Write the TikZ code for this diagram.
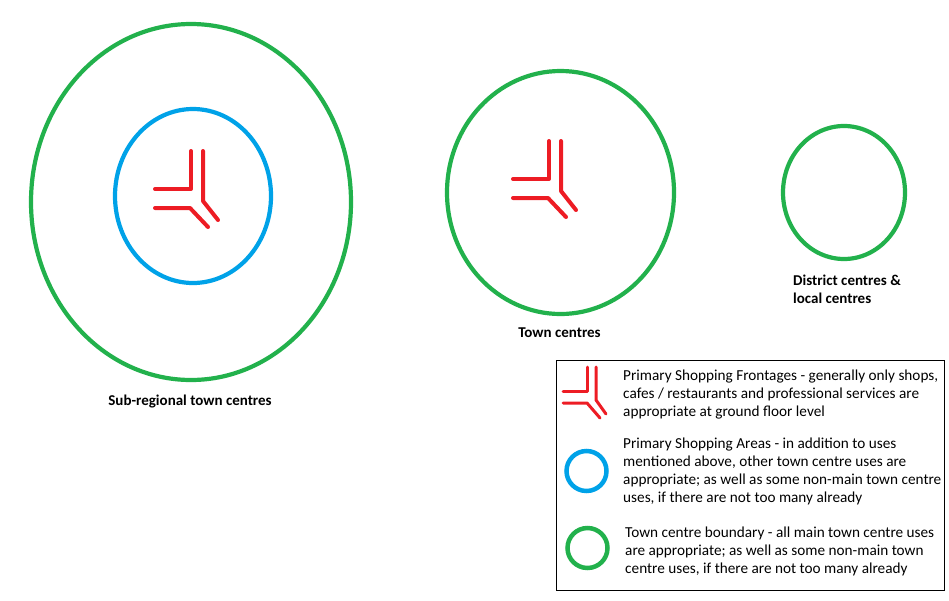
\documentclass[tikz,border=0pt]{standalone}
\usepackage{fontspec}
\setmainfont{Carlito}
\definecolor{paintred}{RGB}{237,28,36}
\definecolor{paintgreen}{RGB}{34,177,76}
\definecolor{paintblue}{RGB}{0,162,232}
\tikzset{
  frontage/.style={paintred,line width=4pt,line cap=round,line join=round},
  boundary/.style={paintgreen,line width=4.2pt},
  shoparea/.style={paintblue,line width=4.2pt},
  centrelabel/.style={font=\fontsize{15}{18}\selectfont\bfseries,inner sep=0pt},
  legendtext/.style={font=\fontsize{15.25}{18}\selectfont,align=left,inner sep=0pt,anchor=north west},
}

\begin{document}
\begin{tikzpicture}[x=1pt,y=-1pt]
 \useasboundingbox (0,0) rectangle (949,600);

    % sub-regional town centre
    \draw[boundary] (191,202) ellipse [x radius=160pt, y radius=178pt];
    \draw[shoparea] (193,196) ellipse [x radius=78pt, y radius=87pt];

    % town centre and district centre
    \draw[boundary] (560.5,192.5) ellipse [x radius=113.5pt, y radius=121.5pt];
    \draw[boundary] (844,192.5) ellipse [x radius=61pt, y radius=66.5pt];

    % frontages
    \foreach \sx/\sy in {0/0,358/-10}{
      \begin{scope}[shift={(\sx,\sy)}]
        \draw[frontage] (155,189) -- (191,189) -- (191,151);
        \draw[frontage] (203,151) -- (203,201) -- (218,220);
        \draw[frontage] (155,208) -- (190,208) -- (208,227);
      \end{scope}
    }

    % labels
    \node[centrelabel,anchor=base] (subregional) at (190,405) {Sub-regional town centres};
    \node[centrelabel,anchor=base] (town) at (559.5,337) {Town centres};
    \node[centrelabel,align=left,anchor=north west] (district) at (793,275) {District centres \&\\local centres};

    % legend
    \draw[black,line width=1pt] (556,360) rectangle (944,590);
    \draw[frontage,line width=3pt] (563,391) -- (587,391) -- (587,367);
    \draw[frontage,line width=3pt] (596,367) -- (596,400) -- (606,414);
    \draw[frontage,line width=3pt] (563,403) -- (587,403) -- (600,418);
    \draw[shoparea,line width=4.5pt] (586.5,471) circle [radius=20pt];
    \draw[boundary,line width=4.5pt] (587.5,548) circle [radius=20pt];

    \node[legendtext] (keyfrontage) at (623,369.5) {Primary Shopping Frontages - generally only shops,\\cafes / restaurants and professional services are\\appropriate at ground floor level};
    \node[legendtext] (keyarea) at (623,438) {Primary Shopping Areas - in addition to uses\\mentioned above, other town centre uses are\\appropriate; as well as some non-main town centre\\uses, if there are not too many already};
    \node[legendtext] (keyboundary) at (625,527) {Town centre boundary - all main town centre uses\\are appropriate; as well as some non-main town\\centre uses, if there are not too many already};

\end{tikzpicture}
\end{document}
